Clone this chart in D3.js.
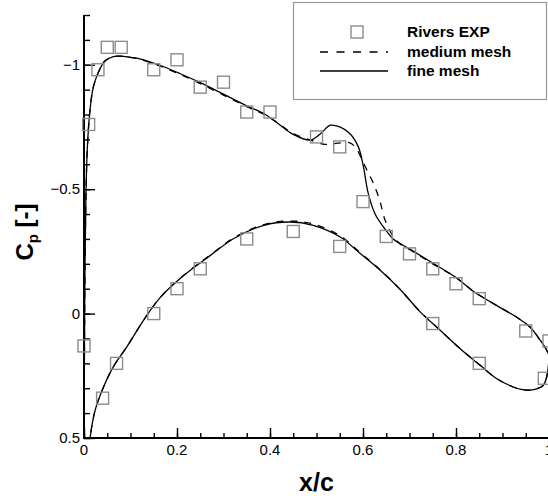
<!DOCTYPE html>
<html lang="en">
<head>
    <meta charset="UTF-8">
    <title>Cp distribution</title>
    <script src="https://d3js.org/d3.v7.min.js"></script>
    <style>
        body {
            margin: 0;
            background: white;
            font-family: Arial, 'Liberation Sans', sans-serif;
        }
        .tick-label {
            font-size: 15px;
            fill: black;
        }
        .legend-text {
            font-size: 15.5px;
            font-weight: bold;
        }
        .exp {
            fill: none;
            stroke: #8c8c8c;
            stroke-width: 1.4;
        }
    </style>
</head>
<body>
    <div id="chart"></div>
    <script>
        // Rivers experiment (upper and lower surface)
        const expUpperX = [0.01, 0.03, 0.05, 0.08, 0.15, 0.2, 0.25, 0.3, 0.35, 0.4, 0.5, 0.55, 0.6, 0.65, 0.7, 0.75, 0.8, 0.85, 0.95, 1.0];
        const expUpperCp = [-0.76, -0.98, -1.07, -1.07, -0.98, -1.02, -0.91, -0.93, -0.81, -0.81, -0.71, -0.67, -0.45, -0.31, -0.24, -0.18, -0.12, -0.06, 0.07, 0.11];
        const expLowerX = [0.0, 0.04, 0.07, 0.15, 0.2, 0.25, 0.35, 0.45, 0.55, 0.75, 0.85, 0.99];
        const expLowerCp = [0.13, 0.34, 0.20, 0.0, -0.1, -0.18, -0.30, -0.33, -0.27, 0.04, 0.2, 0.26];

        // fine mesh: upper surface LE -> TE, then lower surface TE -> LE
        const fineX = [0.0, 0.001, 0.002, 0.004, 0.007, 0.013, 0.02, 0.031, 0.045, 0.063, 0.077, 0.1, 0.12, 0.163, 0.206, 0.25, 0.3, 0.35, 0.39, 0.42, 0.45, 0.486, 0.508, 0.53, 0.55, 0.572, 0.59, 0.601, 0.611, 0.626, 0.644, 0.665, 0.7, 0.75, 0.8, 0.837, 0.887, 0.93, 0.959, 0.981, 0.995, 1.0,
            0.998, 0.995, 0.988, 0.975, 0.959, 0.94, 0.923, 0.887, 0.852, 0.809, 0.766, 0.723, 0.68, 0.637, 0.594, 0.551, 0.493, 0.443, 0.387, 0.323, 0.272, 0.215, 0.165, 0.128, 0.092, 0.063, 0.042, 0.024, 0.013, 0.008];
        const fineCp = [0.5, 0.15, -0.15, -0.45, -0.66, -0.82, -0.91, -0.97, -1.015, -1.033, -1.035, -1.03, -1.024, -0.998, -0.965, -0.928, -0.882, -0.835, -0.8, -0.76, -0.72, -0.697, -0.722, -0.757, -0.75, -0.723, -0.67, -0.59, -0.485, -0.4, -0.348, -0.3, -0.26, -0.203, -0.145, -0.09, -0.033, 0.014, 0.054, 0.107, 0.147, 0.17,
            0.22, 0.255, 0.288, 0.302, 0.308, 0.305, 0.295, 0.261, 0.208, 0.141, 0.067, -0.007, -0.097, -0.174, -0.241, -0.308, -0.355, -0.368, -0.355, -0.303, -0.234, -0.154, -0.067, 0.027, 0.134, 0.214, 0.295, 0.388, 0.5, 0.6];

        // medium mesh
        const mediumX = [0.0, 0.001, 0.002, 0.004, 0.007, 0.013, 0.02, 0.031, 0.045, 0.063, 0.077, 0.1, 0.12, 0.163, 0.206, 0.25, 0.3, 0.35, 0.39, 0.42, 0.45, 0.486, 0.518, 0.545, 0.572, 0.585, 0.597, 0.61, 0.622, 0.636, 0.647, 0.665, 0.68, 0.7, 0.75, 0.8, 0.837, 0.887, 0.93, 0.959, 0.981, 0.995, 1.0,
            0.998, 0.995, 0.988, 0.975, 0.959, 0.94, 0.923, 0.887, 0.852, 0.809, 0.766, 0.723, 0.68, 0.637, 0.594, 0.551, 0.493, 0.443, 0.387, 0.323, 0.272, 0.215, 0.165, 0.128, 0.092, 0.063, 0.042, 0.024, 0.013, 0.008];
        const mediumCp = [0.5, 0.15, -0.15, -0.45, -0.66, -0.82, -0.91, -0.97, -1.015, -1.033, -1.035, -1.03, -1.022, -0.995, -0.962, -0.924, -0.878, -0.832, -0.798, -0.762, -0.723, -0.698, -0.68, -0.685, -0.686, -0.665, -0.622, -0.57, -0.525, -0.455, -0.378, -0.31, -0.28, -0.258, -0.2, -0.145, -0.09, -0.033, 0.014, 0.054, 0.107, 0.147, 0.17,
            0.22, 0.255, 0.288, 0.302, 0.308, 0.305, 0.295, 0.261, 0.208, 0.141, 0.067, -0.007, -0.097, -0.176, -0.245, -0.312, -0.36, -0.372, -0.358, -0.305, -0.236, -0.155, -0.067, 0.027, 0.134, 0.214, 0.295, 0.388, 0.5, 0.6];

        const xMajor = [0, 0.2, 0.4, 0.6, 0.8, 1];
        const yMajor = [-1, -0.5, 0, 0.5];

        const margin = { top: 15, left: 84 };
        const width = 465;
        const height = 423;

        const svg = d3.select("#chart")
            .append("svg")
            .attr("width", 548)
            .attr("height", 496);

        const x = d3.scaleLinear().domain([0, 1]).range([margin.left, margin.left + width]);
        const y = d3.scaleLinear().domain([-1.2, 0.5]).range([margin.top, margin.top + height]);

        svg.append("clipPath").attr("id", "plot-clip")
            .append("rect")
            .attr("x", margin.left).attr("y", margin.top)
            .attr("width", width).attr("height", height);

        // axes: ticks point inward
        const xAxis = svg.append("g")
            .attr("transform", `translate(0,${margin.top + height})`);
        xAxis.call(d3.axisTop(x).tickValues(d3.range(0, 1.0001, 0.05)).tickSize(5).tickFormat(""));
        xAxis.append("g").call(d3.axisTop(x).tickValues(xMajor).tickSize(10).tickFormat(""));
        xAxis.selectAll(".domain").remove();
        xAxis.selectAll("line").attr("stroke", "black").attr("stroke-width", 1.4);

        const yAxis = svg.append("g")
            .attr("transform", `translate(${margin.left},0)`);
        yAxis.call(d3.axisRight(y).tickValues(d3.range(-12, 6).map(v => v / 10)).tickSize(6).tickFormat(""));
        yAxis.append("g").call(d3.axisRight(y).tickValues(yMajor).tickSize(11).tickFormat(""));
        yAxis.selectAll(".domain").remove();
        yAxis.selectAll("line").attr("stroke", "black").attr("stroke-width", 1.4);

        svg.append("line")
            .attr("x1", margin.left).attr("x2", margin.left)
            .attr("y1", margin.top).attr("y2", margin.top + height + 1)
            .attr("stroke", "black").attr("stroke-width", 2);
        svg.append("line")
            .attr("x1", margin.left - 1).attr("x2", margin.left + width)
            .attr("y1", margin.top + height).attr("y2", margin.top + height)
            .attr("stroke", "black").attr("stroke-width", 2);

        svg.selectAll(".xlab")
            .data(xMajor)
            .enter()
            .append("text")
            .attr("class", "tick-label")
            .attr("x", d => x(d))
            .attr("y", margin.top + height + 17)
            .attr("text-anchor", "middle")
            .text(d => d3.format("~g")(d));

        svg.selectAll(".ylab")
            .data(yMajor)
            .enter()
            .append("text")
            .attr("class", "tick-label")
            .attr("x", margin.left - 4)
            .attr("y", d => y(d) + 5)
            .attr("text-anchor", "end")
            .text(d => d3.format("~g")(d));

        // axis titles
        svg.append("text")
            .attr("x", x(0.5))
            .attr("y", 491)
            .attr("text-anchor", "middle")
            .attr("font-size", 25)
            .attr("font-weight", "bold")
            .text("x/c");

        const yTitle = svg.append("text")
            .attr("transform", "translate(33,232) rotate(-90)")
            .attr("text-anchor", "middle")
            .attr("font-size", 24)
            .attr("font-weight", "bold");
        yTitle.append("tspan").text("C");
        yTitle.append("tspan").attr("font-size", 15).attr("dy", 5).text("p");
        yTitle.append("tspan").attr("dy", -5).text(" [-]");

        // CFD curves
        const line = d3.line()
            .x(d => x(d[0]))
            .y(d => y(d[1]))
            .curve(d3.curveCatmullRom.alpha(0.5));

        const curves = svg.append("g").attr("clip-path", "url(#plot-clip)");
        curves.append("path")
            .datum(d3.zip(mediumX, mediumCp))
            .attr("d", line)
            .attr("fill", "none")
            .attr("stroke", "black")
            .attr("stroke-width", 1.3)
            .attr("stroke-dasharray", "7,7");
        curves.append("path")
            .datum(d3.zip(fineX, fineCp))
            .attr("d", line)
            .attr("fill", "none")
            .attr("stroke", "black")
            .attr("stroke-width", 1.3);

        // experiment markers
        const expPoints = d3.zip(expUpperX, expUpperCp).concat(d3.zip(expLowerX, expLowerCp));
        svg.selectAll(".exp")
            .data(expPoints)
            .enter()
            .append("rect")
            .attr("class", "exp")
            .attr("x", d => x(d[0]) - 6)
            .attr("y", d => y(d[1]) - 6)
            .attr("width", 12)
            .attr("height", 12);

        // legend
        const legend = svg.append("g");
        legend.append("rect")
            .attr("x", 293.5).attr("y", 2.5)
            .attr("width", 253).attr("height", 97)
            .attr("fill", "white")
            .attr("stroke", "#999")
            .attr("stroke-width", 1.2);
        legend.append("rect")
            .attr("class", "exp")
            .attr("x", 351).attr("y", 26)
            .attr("width", 12).attr("height", 12);
        legend.append("line")
            .attr("x1", 320).attr("x2", 388)
            .attr("y1", 52).attr("y2", 52)
            .attr("stroke", "black").attr("stroke-width", 1.3)
            .attr("stroke-dasharray", "8,8.5");
        legend.append("line")
            .attr("x1", 320).attr("x2", 388)
            .attr("y1", 71).attr("y2", 71)
            .attr("stroke", "black").attr("stroke-width", 1.3);
        const labels = ["Rivers EXP", "medium mesh", "fine mesh"];
        legend.selectAll(".legend-text")
            .data(labels)
            .enter()
            .append("text")
            .attr("class", "legend-text")
            .attr("x", 407)
            .attr("y", (d, i) => [37, 57, 76][i])
            .text(d => d);
    </script>
</body>
</html>
